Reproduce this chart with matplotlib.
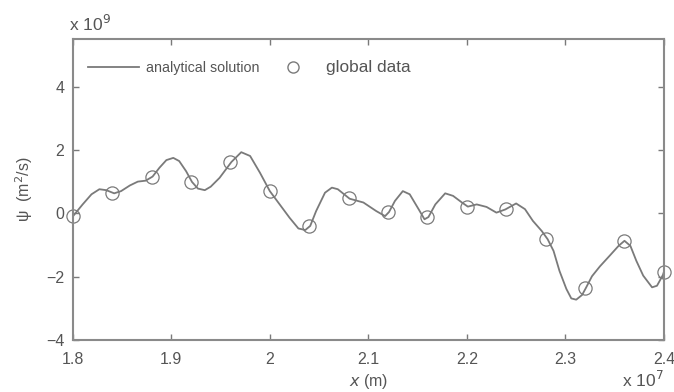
import numpy as np
import matplotlib
matplotlib.use("Agg")
import matplotlib.pyplot as plt
from matplotlib.lines import Line2D

plt.rcParams['font.family'] = ['Liberation Sans', 'DejaVu Sans']

# global data points (x in 1e7 m, psi in 1e9 m^2/s)
x_data = [1.80, 1.84, 1.88, 1.92, 1.96, 2.00, 2.04, 2.08,
          2.12, 2.16, 2.20, 2.24, 2.28, 2.32, 2.36, 2.40]
psi_data = [-0.1, 0.64, 1.15, 0.99, 1.62, 0.69, -0.40, 0.47,
            0.04, -0.13, 0.21, 0.15, -0.82, -2.35, -0.87, -1.85]

# analytical solution
x_curve = [1.800, 1.810, 1.819, 1.827, 1.834, 1.842, 1.849, 1.858, 1.866, 1.874,
           1.881, 1.888, 1.895, 1.902, 1.908, 1.915, 1.921, 1.927, 1.934, 1.940,
           1.949, 1.961, 1.971, 1.980, 1.990, 2.000, 2.010, 2.020, 2.029, 2.036,
           2.041, 2.047, 2.056, 2.063, 2.069, 2.081, 2.095, 2.108, 2.117, 2.121,
           2.127, 2.135, 2.142, 2.151, 2.157, 2.161, 2.168, 2.178, 2.186, 2.195,
           2.201, 2.210, 2.220, 2.230, 2.239, 2.250, 2.259, 2.267, 2.276, 2.282,
           2.288, 2.294, 2.301, 2.306, 2.311, 2.317, 2.321, 2.327, 2.335, 2.345,
           2.354, 2.360, 2.366, 2.372, 2.379, 2.388, 2.393, 2.399, 2.400]
psi_curve = [-0.10, 0.28, 0.60, 0.76, 0.73, 0.63, 0.70, 0.88, 1.00, 1.03,
             1.16, 1.44, 1.68, 1.75, 1.65, 1.33, 0.99, 0.78, 0.73, 0.84,
             1.12, 1.62, 1.93, 1.81, 1.28, 0.70, 0.28, -0.14, -0.48, -0.53,
             -0.40, 0.07, 0.65, 0.81, 0.76, 0.46, 0.34, 0.07, -0.09, 0.04,
             0.39, 0.70, 0.60, 0.13, -0.19, -0.12, 0.28, 0.63, 0.55, 0.34,
             0.21, 0.28, 0.20, 0.02, 0.12, 0.31, 0.13, -0.24, -0.56, -0.82,
             -1.19, -1.82, -2.39, -2.69, -2.73, -2.58, -2.35, -1.99, -1.68, -1.34,
             -1.03, -0.87, -1.03, -1.50, -1.97, -2.34, -2.29, -1.95, -1.85]

grey = '#7a7a7a'
txt = '#555555'

fig = plt.figure(figsize=(6.74, 3.92), dpi=100)
ax = fig.add_axes([0.108, 0.133, 0.877, 0.767])

ax.plot(x_curve, psi_curve, color=grey, lw=1.3, solid_joinstyle='round')
ax.plot(x_data, psi_data, 'o', mfc='none', mec=grey, ms=9.5, mew=0.9, clip_on=False)

ax.set_xlim(1.8, 2.4)
ax.set_ylim(-4, 5.5)
ax.set_xticks([1.8, 1.9, 2.0, 2.1, 2.2, 2.3, 2.4])
ax.set_xticklabels(['1.8', '1.9', '2', '2.1', '2.2', '2.3', '2.4'])
ax.set_yticks([-4, -2, 0, 2, 4])
ax.set_yticklabels(['\u22124', '\u22122', '0', '2', '4'])
ax.tick_params(direction='in', top=True, right=True, length=4, width=1.0,
               colors=grey, labelcolor=txt, labelsize=11.5)
ax.tick_params(axis='x', pad=9)
ax.tick_params(axis='y', pad=6)
for s in ax.spines.values():
    s.set_color('#8a8a8a')
    s.set_linewidth(1.5)

ax.set_xlabel('$\\it{x}$ (m)', color=txt, fontsize=11.5, labelpad=3.5)
ax.set_ylabel('\u03c8  (m$^2$/s)', color=txt, fontsize=11.5, labelpad=8)

fig.text(0.102, 0.94, 'x 10$^9$', color=txt, fontsize=12.5, va='center')
fig.text(0.923, 0.004, 'x 10$^7$', color=txt, fontsize=12.5, va='bottom')

handles = [Line2D([], [], color=grey, lw=1.3),
           Line2D([], [], ls='none', marker='o', mfc='none', mec=grey, ms=8)]
leg = ax.legend(handles, ['analytical solution', 'global data'], ncol=2,
                frameon=False, loc='upper left', bbox_to_anchor=(0.025, 0.93),
                borderaxespad=0, borderpad=0, fontsize=10,
                handlelength=3.7, columnspacing=0.6, handletextpad=0.5)
t1, t2 = leg.get_texts()
t1.set_fontsize(10.3)
t2.set_fontsize(12.4)
for t in leg.get_texts():
    t.set_color(txt)

fig.savefig('out.png', dpi=100)
